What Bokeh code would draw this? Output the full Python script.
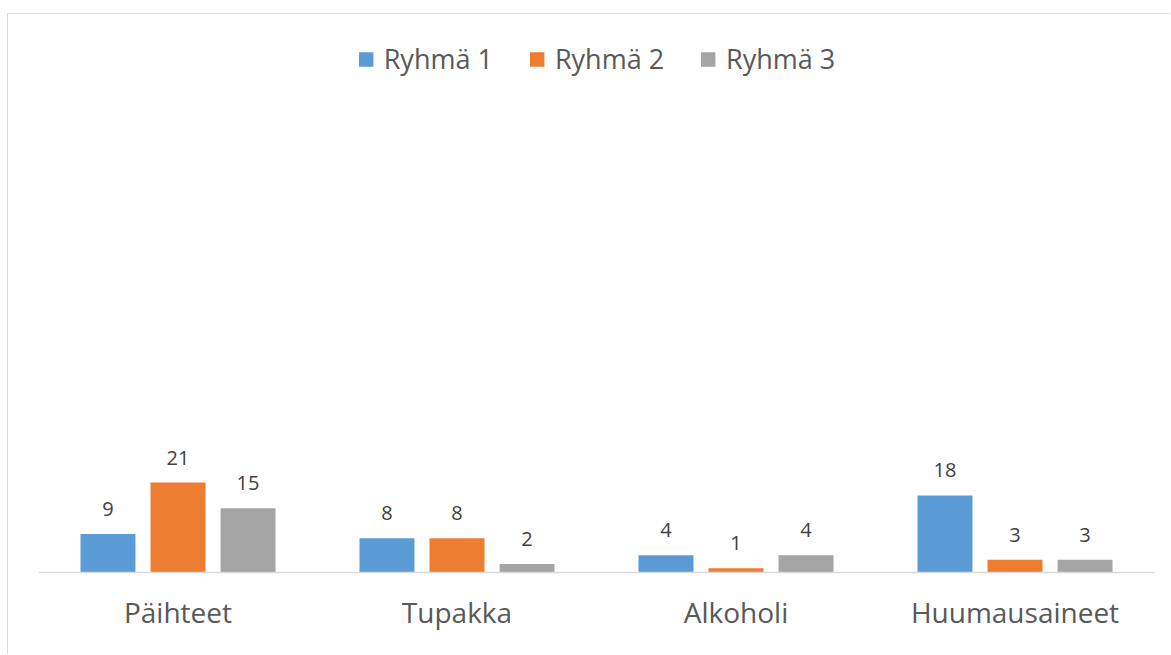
from bokeh.plotting import figure
from bokeh.models import ColumnDataSource, FactorRange, Range1d, Legend, LegendItem
from bokeh.transform import dodge
from bokeh.core.properties import value
from bokeh.embed import file_html
from bokeh.resources import INLINE

categories = ["Päihteet", "Tupakka", "Alkoholi", "Huumausaineet"]
series_names = ["Ryhmä 1", "Ryhmä 2", "Ryhmä 3"]
ryhma1 = [9, 8, 4, 18]
ryhma2 = [21, 8, 1, 3]
ryhma3 = [15, 2, 4, 3]
colors = ["#5B9BD5", "#ED7D31", "#A5A5A5"]

FONT = "Open Sans"
src = ColumnDataSource(dict(
    cat=categories,
    r1=ryhma1, r2=ryhma2, r3=ryhma3,
    t1=[str(v) for v in ryhma1], t2=[str(v) for v in ryhma2], t3=[str(v) for v in ryhma3],
))

p = figure(
    x_range=FactorRange(*categories, range_padding=0),
    y_range=Range1d(0, 126.5),
    width=1163, height=641,
    output_backend="svg", toolbar_location=None,
    y_axis_location=None,
    min_border_left=30, min_border_right=17, min_border_top=16, min_border_bottom=83,
)
p.styles = {"border-left": "1px solid #d9d9d9", "border-top": "1px solid #d9d9d9",
            "margin-top": "13px", "margin-left": "7px"}
p.outline_line_color = None
p.xgrid.visible = False
p.ygrid.visible = False

offsets = [-0.251, 0.0, 0.251]
cols = ["r1", "r2", "r3"]
tcols = ["t1", "t2", "t3"]
renderers = []
for off, c, t, col in zip(offsets, cols, tcols, colors):
    r = p.vbar(x=dodge("cat", off, range=p.x_range), top=c, width=0.197, bottom=0,
               source=src, fill_color=col, line_color=None)
    renderers.append(r)
    p.text(x=dodge("cat", off, range=p.x_range), y=c, text=t, source=src,
           text_align="center", text_baseline="alphabetic", y_offset=-25,
           text_font=value(FONT), text_font_size="20px", text_color="#404040")

legend = Legend(items=[LegendItem(label=n, renderers=[r]) for n, r in zip(series_names, renderers)],
                orientation="horizontal", location="top_center")
legend.label_text_font = FONT
legend.label_text_font_size = "27px"
legend.label_text_color = "#595959"
legend.glyph_width = 18
legend.glyph_height = 18
legend.label_standoff = 9
legend.spacing = 35
legend.padding = 12
legend.margin = 10
legend.border_line_color = None
legend.background_fill_alpha = 0
p.add_layout(legend)

ax = p.xaxis[0]
ax.axis_line_color = "#d9d9d9"
ax.axis_line_width = 1.5
ax.major_tick_line_color = None
ax.minor_tick_line_color = None
ax.major_label_text_font = FONT
ax.major_label_text_font_size = "28px"
ax.major_label_text_color = "#595959"
ax.major_label_standoff = 14

open("out.html", "w").write(file_html(p, INLINE))
